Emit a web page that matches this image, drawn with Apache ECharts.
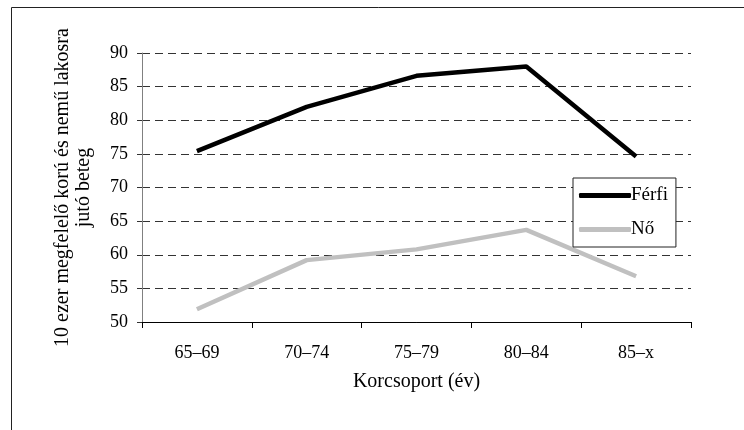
<!DOCTYPE html>
<html>
<head>
<meta charset="utf-8">
<script src="https://cdn.jsdelivr.net/npm/echarts@6/dist/echarts.min.js"></script>
<style>
  html, body { margin: 0; padding: 0; background: #fff; }
  #chart { width: 744px; height: 430px; }
</style>
</head>
<body>
<div id="chart"></div>
<script>
// Age groups and rates per 10 000 inhabitants of the same age and sex
const categories = ['65–69', '70–74', '75–79', '80–84', '85–x'];
const ferfi = [75.4, 82.0, 86.6, 88.0, 74.6];
const no = [51.9, 59.2, 60.8, 63.7, 56.8];
const yTicks = [50, 90, 5]; // min, max, step

const FONT = '"Liberation Serif", "Times New Roman", serif';

const chart = echarts.init(document.getElementById('chart'), null, { renderer: 'canvas' });

chart.setOption({
  backgroundColor: '#fff',
  animation: false,
  textStyle: { fontFamily: FONT, color: '#000' },
  graphic: [{
    type: 'rect',
    silent: true,
    shape: { x: 11.5, y: 7.5, width: 760, height: 460 },
    style: { fill: 'none', stroke: '#222', lineWidth: 1 }
  }],
  grid: { left: 142, right: 53, top: 53, bottom: 108, containLabel: false },
  legend: {
    orient: 'vertical',
    left: 573,
    top: 178,
    padding: [7, 8, 7, 6],
    itemGap: 13,
    itemWidth: 52,
    itemHeight: 5,
    icon: 'roundRect',
    backgroundColor: '#fff',
    borderColor: '#222',
    borderWidth: 1,
    borderRadius: 0,
    textStyle: { fontFamily: FONT, fontSize: 19, color: '#000', lineHeight: 21, padding: [0, 0, 0, -5] },
    data: ['Férfi', 'Nő']
  },
  xAxis: {
    type: 'category',
    data: categories,
    boundaryGap: true,
    name: 'Korcsoport (év)',
    nameLocation: 'middle',
    nameGap: 50,
    nameTextStyle: { fontFamily: FONT, fontSize: 20, color: '#000' },
    axisLine: { lineStyle: { color: '#000', width: 1 } },
    axisTick: { show: true, alignWithLabel: false, length: 6, lineStyle: { color: '#000' } },
    axisLabel: { fontFamily: FONT, fontSize: 18, color: '#000', margin: 22 },
    splitLine: { show: false }
  },
  yAxis: {
    type: 'value',
    min: yTicks[0],
    max: yTicks[1],
    interval: yTicks[2],
    name: '10 ezer megfelelő korú és nemű lakosra\njutó beteg',
    nameLocation: 'middle',
    nameGap: 48,
    nameRotate: 90,
    nameTextStyle: { fontFamily: FONT, fontSize: 20, color: '#000', lineHeight: 21, align: 'center' },
    axisLine: { show: true, lineStyle: { color: '#808080', width: 1 } },
    axisTick: { show: true, length: 5, lineStyle: { color: '#333' } },
    axisLabel: { fontFamily: FONT, fontSize: 18, color: '#000', margin: 14 },
    splitLine: { show: true, lineStyle: { color: '#333', width: 1, type: [8, 5] } }
  },
  series: [
    {
      name: 'Férfi',
      type: 'line',
      data: ferfi,
      symbol: 'none',
      lineStyle: { color: '#000', width: 4.5 },
      itemStyle: { color: '#000' },
      z: 3
    },
    {
      name: 'Nő',
      type: 'line',
      data: no,
      symbol: 'none',
      lineStyle: { color: '#c0c0c0', width: 4.5 },
      itemStyle: { color: '#c0c0c0' },
      z: 2
    }
  ]
});
</script>
</body>
</html>
